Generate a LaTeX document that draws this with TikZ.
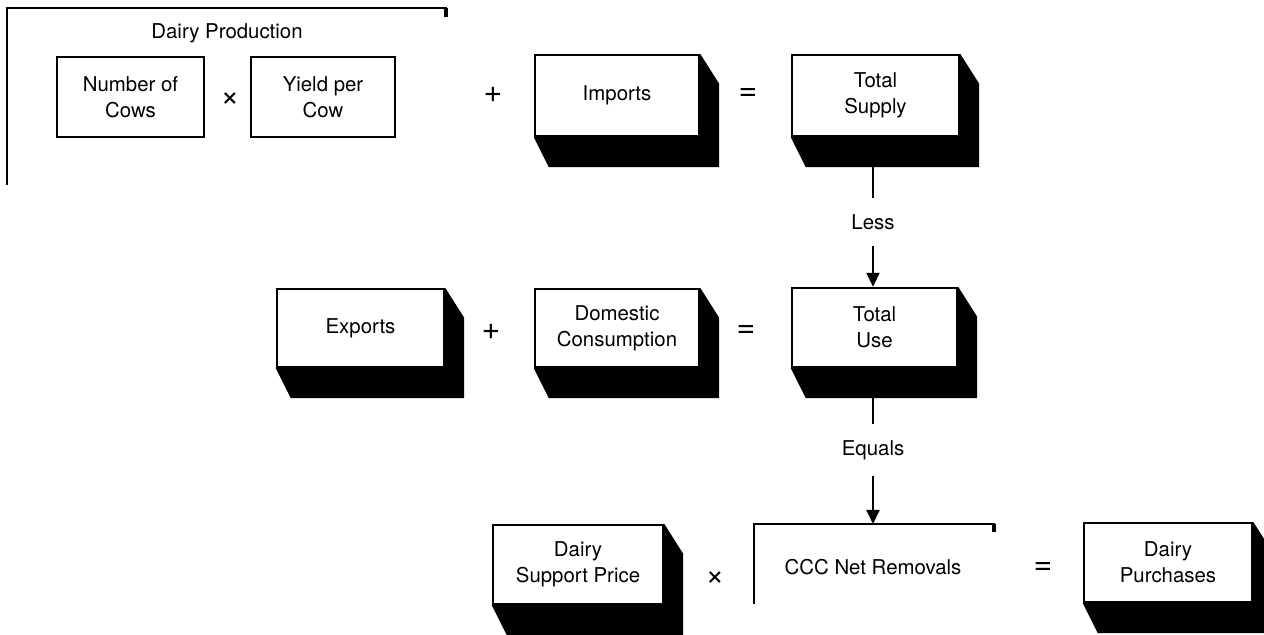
\documentclass[tikz,border=0pt]{standalone}
\usepackage{fontspec}
\setmainfont{TeX Gyre Heros}
\usetikzlibrary{arrows.meta}
\newcommand\dropshade[1]{\fill (#1.north east) -- ++(19,30) -- ([shift={(19,30)}]#1.south east) -- ([shift={(15,30)}]#1.south west) -- (#1.south west) -- (#1.south east) -- cycle;}
\begin{document}
\begin{tikzpicture}[x=0.5pt,y=-0.5pt,
  box/.style={draw,line width=1.2pt,fill=white,inner sep=0pt,align=center,font=\fontsize{10.2}{13}\selectfont},
  lbl/.style={font=\fontsize{10.2}{13}\selectfont,inner sep=0pt,align=center},
  conlbl/.style={font=\fontsize{10.2}{13}\selectfont,inner xsep=0pt,inner ysep=8pt},
  op/.style={font=\fontsize{16}{16}\selectfont,inner sep=0pt},
  conn/.style={line width=1pt},
  arr/.style={conn,-{Triangle[width=6.5pt,length=7pt]}},
  frame/.style={line width=1.3pt}]
\useasboundingbox (0,0) rectangle (1264,635);

% Dairy production frame
\draw[frame] (7,185) -- (7,8) -- (447,8);
\draw[line width=2.2pt] (446,8) -- (446,17);
\node[lbl] (dp) at (227,33) {Dairy Production};
\node[box,minimum width=73.5pt,minimum height=40pt] (cows) at (130.5,97) {Number of\\Cows};
\node[box,minimum width=72pt,minimum height=40pt] (yield) at (323,97) {Yield per\\Cow};
\node[op] (x1) at (230,100) {×};

% row 1
\node[op] (p1) at (493,95) {+};
\node[box,minimum width=82pt,minimum height=40.5pt] (imports) at (617,95.5) {Imports};
\dropshade{imports}
\node[op] (e1) at (748,95) {=};
\node[box,minimum width=83.5pt,minimum height=40.5pt] (supply) at (875.5,95.5) {Total\\Supply};
\dropshade{supply}

% row 2
\node[box,minimum width=83.5pt,minimum height=39pt] (exports) at (360.5,328) {Exports};
\dropshade{exports}
\node[op] (p2) at (491,332) {+};
\node[box,minimum width=82pt,minimum height=39pt] (domestic) at (617,328) {Domestic\\Consumption};
\dropshade{domestic}
\node[op] (e2) at (746,332) {=};
\node[box,minimum width=82.5pt,minimum height=39.5pt] (use) at (874.5,327.5) {Total\\Use};
\dropshade{use}

% row 3
\node[box,minimum width=85pt,minimum height=39.5pt] (price) at (578,564.5) {Dairy\\Support Price};
\dropshade{price}
\node[op] (x2) at (715,579) {×};
\draw[frame] (754,604) -- (754,524) -- (995,524);
\draw[line width=2.2pt] (994,524) -- (994,532);
\node[lbl] (ccc) at (873,567) {CCC Net Removals};
\coordinate (ccctop) at (873,524);
\node[op] (e3) at (1043,569) {=};
\node[box,minimum width=84pt,minimum height=39.5pt] (purch) at (1168,562.5) {Dairy\\Purchases};
\dropshade{purch}

% connectors
\node[conlbl] (less) at (873,222) {Less};
\node[conlbl] (equals) at (873,450) {Equals};
\draw[conn] (supply.south -| less) -- (less);
\draw[arr] (less) -- (use.north -| less);
\draw[conn] (use.south -| equals) -- (equals);
\draw[arr] (equals) -- (ccctop);
\end{tikzpicture}
\end{document}
